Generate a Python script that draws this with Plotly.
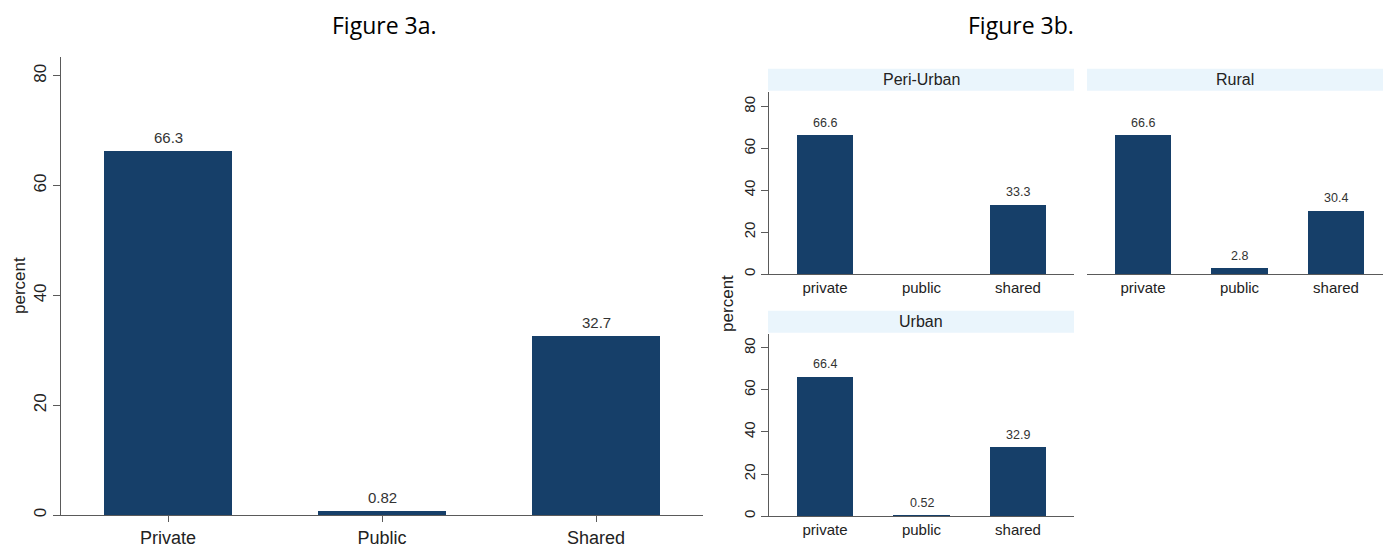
import plotly.graph_objects as go

# ---- data -------------------------------------------------------------
categories_a = ["Private", "Public", "Shared"]
pct_overall = [66.3, 0.82, 32.7]

categories_b = ["private", "public", "shared"]
pct_peri_urban = [66.6, None, 33.3]
pct_rural = [66.6, 2.8, 30.4]
pct_urban = [66.4, 0.52, 32.9]

y_ticks = [0, 20, 40, 60, 80]

# ---- styling ----------------------------------------------------------
W, H = 1383, 552
BAR = "#163f69"
STRIP = "#eaf5fc"
AXIS = "#5a5a5a"
TXT = "#222222"
FONT = "Liberation Sans, Arial, sans-serif"


def px(x):
    return x / W


def py(y):
    return 1 - y / H


fig = go.Figure()


def add_bars(values, cats, xa, ya, width):
    fig.add_trace(go.Bar(
        x=cats, y=values, xaxis=xa, yaxis=ya, width=width,
        marker=dict(color=BAR, line=dict(width=0)),
        showlegend=False, hoverinfo="x+y",
    ))


def add_value_labels(values, cats, xa, ya, size, shift):
    for c, v in zip(cats, values):
        if v is None:
            continue
        fig.add_annotation(
            x=c, y=v, xref=xa, yref=ya, text=str(v), showarrow=False,
            yanchor="bottom", yshift=shift,
            font=dict(family=FONT, size=size, color="#333333"),
        )


# Figure 3a: overall distribution
add_bars(pct_overall, categories_a, "x", "y", 0.6)
add_value_labels(pct_overall, categories_a, "x", "y", 15, 3)

# Figure 3b: by locality
panels = [
    ("Peri-Urban", pct_peri_urban, "x2", "y2"),
    ("Rural", pct_rural, "x3", "y3"),
    ("Urban", pct_urban, "x4", "y4"),
]
for name, vals, xa, ya in panels:
    add_bars(vals, categories_b, xa, ya, 0.59)
    add_value_labels(vals, categories_b, xa, ya, 12.5, 3)

common_x = dict(
    type="category", showline=True, linecolor=AXIS, linewidth=1.3,
    showgrid=False, zeroline=False, fixedrange=True,
)
common_y = dict(
    showline=True, linecolor=AXIS, linewidth=1.3, showgrid=False,
    zeroline=False, ticks="outside", ticklen=7, tickcolor=AXIS,
    tickangle=-90, tickvals=y_ticks, fixedrange=True,
)

layout = dict(
    width=W, height=H, autosize=False,
    margin=dict(l=0, r=0, t=0, b=0),
    paper_bgcolor="white", plot_bgcolor="white",
    bargap=0,
    font=dict(family=FONT, color=TXT),
)

# 3a axes
layout["xaxis"] = dict(
    common_x, domain=[px(61), px(703)], range=[-0.5, 2.5],
    ticks="outside", ticklen=6, tickcolor=AXIS,
    tickfont=dict(size=18, color=TXT), anchor="y",
)
layout["yaxis"] = dict(
    common_y, domain=[py(517), py(57)], range=[0, 83.45],
    tickfont=dict(size=17, color=TXT), anchor="x",
)

# 3b axes
top_y = [py(275), py(92)]
bottom_y = [py(518), py(335)]
layout["xaxis2"] = dict(
    common_x, domain=[px(769), px(1074)], range=[-0.58, 2.58], ticks="",
    tickfont=dict(size=15, color=TXT), anchor="y2",
)
layout["yaxis2"] = dict(
    common_y, domain=top_y, range=[0, 87.1],
    tickfont=dict(size=15, color=TXT), anchor="x2",
)
layout["xaxis3"] = dict(
    common_x, domain=[px(1087), 1.0], range=[-0.58, 2.487], ticks="",
    tickfont=dict(size=15, color=TXT), anchor="y3",
)
layout["yaxis3"] = dict(
    domain=top_y, range=[0, 87.1], showline=False, showgrid=False,
    zeroline=False, showticklabels=False, ticks="", anchor="x3",
    fixedrange=True,
)
layout["xaxis4"] = dict(
    common_x, domain=[px(769), px(1074)], range=[-0.58, 2.58], ticks="",
    tickfont=dict(size=15, color=TXT), anchor="y4",
)
layout["yaxis4"] = dict(
    common_y, domain=bottom_y, range=[0, 86.7],
    tickfont=dict(size=15, color=TXT), anchor="x4",
)

fig.update_layout(**layout)

# panel header strips
strips = [
    ("Peri-Urban", 768, 1074, 69, 91),
    ("Rural", 1087, 1383, 69, 91),
    ("Urban", 768, 1074, 312, 334),
]
for label, x0, x1, y0, y1 in strips:
    fig.add_shape(
        type="rect", xref="paper", yref="paper",
        x0=px(x0), x1=px(x1), y0=py(y1), y1=py(y0),
        fillcolor=STRIP, line=dict(width=0), layer="below",
    )
    fig.add_annotation(
        x=px((x0 + x1) / 2), y=py((y0 + y1) / 2), xref="paper", yref="paper",
        text=label, showarrow=False, xanchor="center", yanchor="middle",
        font=dict(family=FONT, size=16, color=TXT),
    )

# y-axis titles
for xc, yc in [(20, 287), (728, 305)]:
    fig.add_annotation(
        x=px(xc), y=py(yc), xref="paper", yref="paper", text="percent",
        textangle=-90, showarrow=False, xanchor="center", yanchor="middle",
        font=dict(family=FONT, size=17, color=TXT),
    )

# figure captions
for text, xc in [("Figure 3a.", 385), ("Figure 3b.", 1021)]:
    fig.add_annotation(
        x=px(xc), y=py(25), xref="paper", yref="paper", text=text,
        showarrow=False, xanchor="center", yanchor="middle",
        font=dict(family="Open Sans, Noto Sans, sans-serif", size=23,
                  color="#000000", weight=400),
    )

fig.write_html("out.html", config={"displayModeBar": False})
